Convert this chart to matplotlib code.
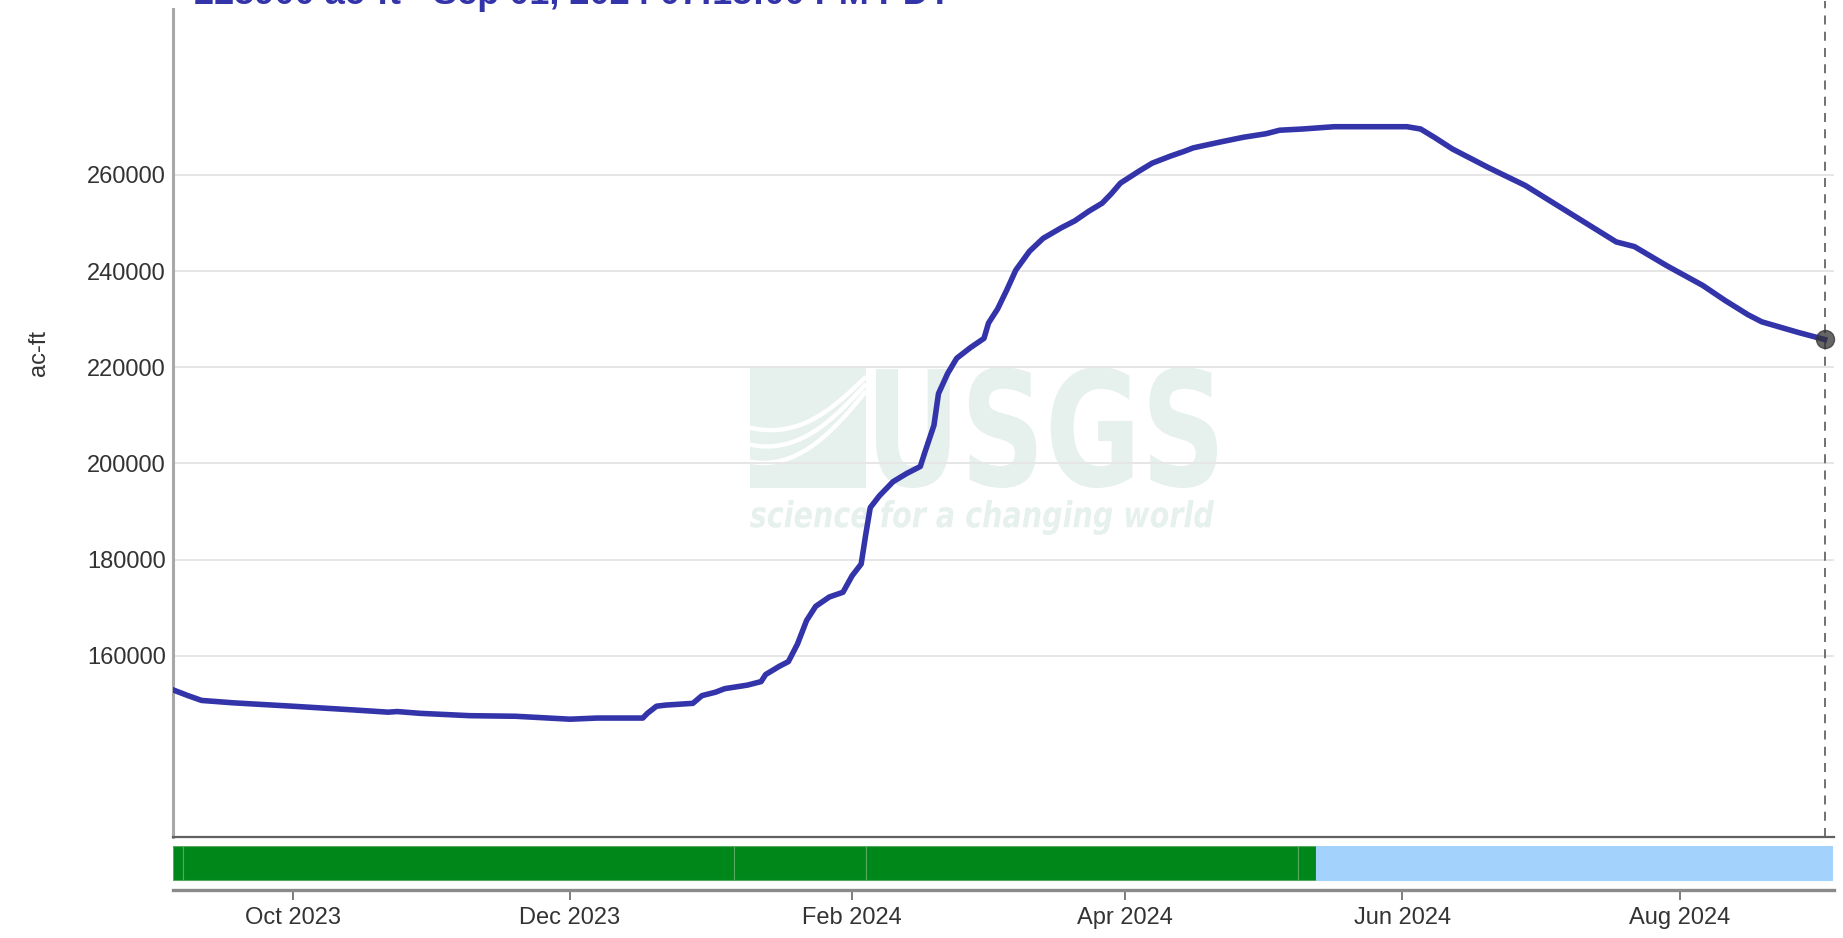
import numpy as np
import pandas as pd
import matplotlib
matplotlib.use("Agg")
import matplotlib.pyplot as plt
import matplotlib.dates as mdates
from matplotlib.textpath import TextPath
from matplotlib.patches import PathPatch, Rectangle
from matplotlib.font_manager import FontProperties
from matplotlib.transforms import Affine2D

plt.rcParams["font.family"] = ["Liberation Sans", "DejaVu Sans"]

# --- data ------------------------------------------------------------------
dates = [
    "2023-09-04 17:00", "2023-09-08", "2023-09-11", "2023-09-18", "2023-10-01",
    "2023-10-14", "2023-10-22", "2023-10-24", "2023-10-29", "2023-11-09",
    "2023-11-19", "2023-12-01", "2023-12-07", "2023-12-17", "2023-12-18",
    "2023-12-20", "2023-12-22", "2023-12-28", "2023-12-30", "2024-01-02",
    "2024-01-04", "2024-01-09", "2024-01-12", "2024-01-13", "2024-01-16",
    "2024-01-18", "2024-01-20", "2024-01-22", "2024-01-24", "2024-01-27",
    "2024-01-30", "2024-02-01", "2024-02-03", "2024-02-04", "2024-02-05",
    "2024-02-07", "2024-02-10", "2024-02-13", "2024-02-16", "2024-02-17",
    "2024-02-19", "2024-02-20", "2024-02-22", "2024-02-24", "2024-02-27",
    "2024-03-01", "2024-03-02", "2024-03-04", "2024-03-06", "2024-03-08",
    "2024-03-11", "2024-03-14", "2024-03-18", "2024-03-21", "2024-03-24",
    "2024-03-27", "2024-03-29", "2024-03-31", "2024-04-04", "2024-04-07",
    "2024-04-11", "2024-04-14", "2024-04-16", "2024-04-22", "2024-04-27",
    "2024-05-02", "2024-05-05", "2024-05-10", "2024-05-17", "2024-05-25",
    "2024-06-02", "2024-06-05", "2024-06-08", "2024-06-12", "2024-06-20",
    "2024-06-28", "2024-07-08", "2024-07-18", "2024-07-22", "2024-07-29",
    "2024-08-06", "2024-08-11", "2024-08-16", "2024-08-19", "2024-08-27",
    "2024-09-01 19:15",
]
storage = [
    152900, 151700, 150700, 150200, 149500,
    148750, 148260, 148390, 148020, 147530,
    147410, 146800, 147040, 147040, 148020,
    149500, 149730, 150100, 151700, 152420,
    153150, 153890, 154620, 156090, 157800,
    158780, 162440, 167330, 170270, 172220,
    173200, 176620, 179070, 185180, 190800,
    193250, 196190, 197900, 199360, 202300,
    207920, 214520, 218680, 221860, 224060,
    226000, 229190, 232130, 236040, 240200,
    244110, 246800, 249000, 250460, 252420,
    254130, 256090, 258290, 260730, 262450,
    263910, 264890, 265620, 266850, 267820,
    268560, 269290, 269540, 270020, 270020,
    270020, 269540, 267820, 265380, 261470,
    257800, 251930, 246060, 245090, 241170,
    237020, 233840, 230900, 229440, 227240,
    225770,
]

# approval status bar (segments)
seg_start = ["2023-09-04 17:00", "2023-09-07", "2024-01-06", "2024-02-04", "2024-05-09", "2024-05-13"]
seg_end = ["2023-09-07", "2024-01-06", "2024-02-04", "2024-05-09", "2024-05-13", "2024-09-03 12:00"]
seg_status = ["A", "A", "A", "A", "A", "P"]

title = "225900 ac-ft - Sep 01, 2024 07:15:00 PM PDT"
y_ticks = [160000, 180000, 200000, 220000, 240000, 260000]
x_ticks = ["2023-10-01", "2023-12-01", "2024-02-01", "2024-04-01", "2024-06-01", "2024-08-01"]

# --- figure ---------------------------------------------------------------
W, H = 1843, 938
fig = plt.figure(figsize=(W / 100, H / 100), dpi=100)
fig.patch.set_facecolor("white")


def frac(x0, y0, x1, y1):
    return [x0 / W, 1 - y1 / H, (x1 - x0) / W, (y1 - y0) / H]


def dnum(s):
    return mdates.date2num(pd.to_datetime(s, format="ISO8601"))


ax = fig.add_axes(frac(173, 9, 1834, 837))
axb = fig.add_axes(frac(173, 846, 1834, 890))

t = pd.to_datetime(dates, format="ISO8601")
xmin = dnum("2023-09-04 17:00")
xmax = dnum("2024-09-03 21:00")

# watermark (USGS logo), drawn in pixel coordinates
wm = "#e6f0ed"


def fit_text(axis, s, box, prop):
    tp = TextPath((0, 0), s, size=100, prop=prop)
    e = tp.get_extents()
    x0, y0, x1, y1 = box
    tr = (Affine2D().translate(-e.x0, -e.y0)
          .scale((x1 - x0) / e.width, (y1 - y0) / e.height)
          .translate(x0, H - y1))
    axis.add_patch(PathPatch(tp, transform=tr, facecolor=wm,
                             edgecolor="none", zorder=0.3))


fit_text(ax, "USGS", (876, 367, 1217, 488),
         FontProperties(family="DejaVu Sans", weight="bold"))
fit_text(ax, "science for a changing world", (750, 500, 1214, 535),
         FontProperties(family="DejaVu Sans", weight="bold", style="italic"))
ax.add_patch(Rectangle((750, H - 488), 116, 121, transform=Affine2D(),
                       facecolor=wm, edgecolor="none", zorder=0.3))
u = np.linspace(0, 1, 60)
for k, base in enumerate([0.50, 0.64, 0.78]):
    depth = base + 0.10 * np.sin(np.pi * u) - u ** 1.5 * (0.42 + 0.08 * k)
    ax.plot(750 + u * 116, (H - 367) - depth * 121,
            color="white", lw=3.2, transform=Affine2D(), zorder=0.35,
            solid_capstyle="butt")

# main line
ax.plot(t, storage, color="#3333aa", lw=4.0, zorder=3, solid_joinstyle="round")
ax.axvline(t[-1], ymax=1.01, color="#666666", lw=1.3, ls=(0, (5, 4)),
           zorder=2, clip_on=False)
ax.plot(t[-1:], storage[-1:], "o", ms=13, color="#333333", alpha=0.75,
        zorder=4, clip_on=False)

ax.set_xlim(xmin, xmax)
ax.set_ylim(122300, 294500)
ax.set_yticks(y_ticks)
ax.set_yticklabels([str(v) for v in y_ticks])
ax.tick_params(axis="y", length=0, pad=5, labelsize=17, labelcolor="#333333")
ax.set_xticks([])
ax.yaxis.grid(True, color="#e6e6e6", lw=1.4)
ax.set_axisbelow(True)
for s in ("top", "right"):
    ax.spines[s].set_visible(False)
ax.spines["left"].set_color("#a8a8a8")
ax.spines["left"].set_linewidth(2.2)
ax.spines["bottom"].set_color("#606060")
ax.spines["bottom"].set_linewidth(1.6)

fig.text(39 / W, 1 - 353 / H, "ac-ft", rotation=90, ha="center", va="center",
         fontsize=17, color="#333333")
# title sits mostly above the top edge, as in the source screenshot
fig.text(194 / W, 1 - 4 / H, title, fontsize=26, fontweight="bold",
         color="#3333aa", ha="left", va="baseline")

# approval bar
colors = {"A": "#00871a", "P": "#a3d3fd"}
edges = {"A": "#55aa5f", "P": "#a3d3fd"}
for s0, s1, st in zip(seg_start, seg_end, seg_status):
    a = dnum(s0)
    b = dnum(s1)
    axb.barh(0.615, b - a, left=a, height=0.77, color=colors[st],
             edgecolor=edges[st], linewidth=0.8)
axb.set_xlim(xmin, xmax)
axb.set_ylim(0, 1)
axb.set_yticks([])
for s in ("top", "right", "left"):
    axb.spines[s].set_visible(False)
axb.spines["bottom"].set_color("#8a8a8a")
axb.spines["bottom"].set_linewidth(2.4)
axb.set_xticks([dnum(d) for d in x_ticks])
axb.xaxis.set_major_formatter(mdates.DateFormatter("%b %Y"))
axb.tick_params(axis="x", length=7, width=1.2, color="#666666", pad=5,
                labelsize=17, labelcolor="#333333")

fig.savefig("out.png", dpi=100, facecolor="white")
